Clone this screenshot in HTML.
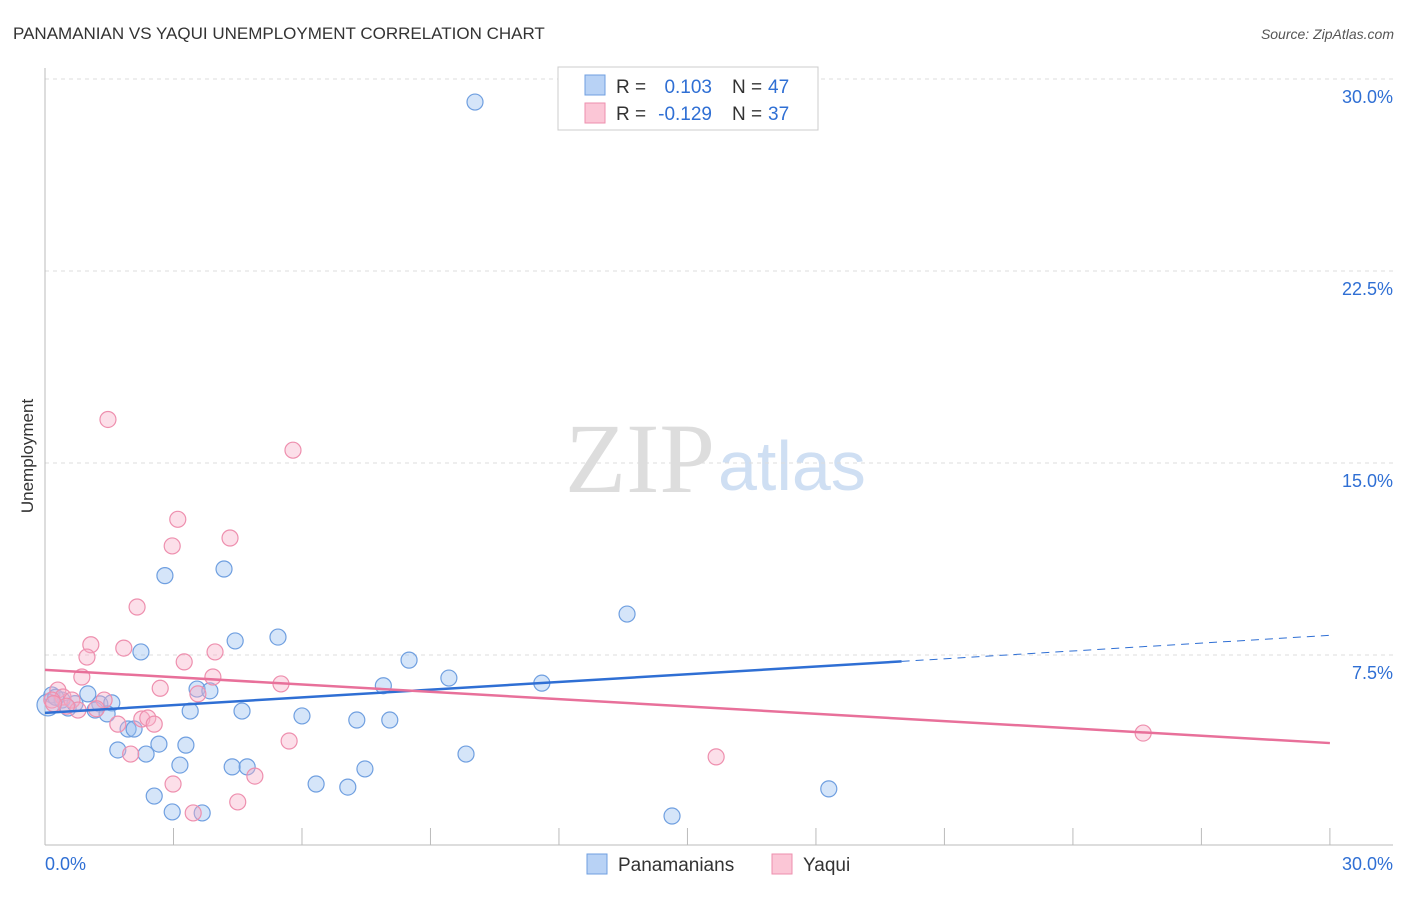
<!DOCTYPE html>
<html><head><meta charset="utf-8">
<style>
body{margin:0;background:#fff;font-family:"Liberation Sans",sans-serif;}
svg text{font-family:"Liberation Sans",sans-serif;}
</style></head>
<body>
<svg width="1406" height="892" xmlns="http://www.w3.org/2000/svg">
<text x="13" y="39" font-size="17" fill="#333">PANAMANIAN VS YAQUI UNEMPLOYMENT CORRELATION CHART</text>
<text x="1394" y="39" font-size="14" fill="#555" text-anchor="end" font-style="italic">Source: ZipAtlas.com</text>
<text x="715" y="492" font-size="100" text-anchor="end" fill="#ddd" style="font-family:'Liberation Serif',serif">ZIP</text>
<text x="718" y="490" font-size="70" fill="#cfdff3">atlas</text>
<text x="33" y="456" font-size="17" fill="#333" text-anchor="middle" transform="rotate(-90 33 456)">Unemployment</text>
<g id="grid"></g>
<g id="axes"></g>
<g id="marks"></g>
<g>
<rect x="558" y="67" width="260" height="63" fill="#fff" stroke="#ccc"/>
<rect x="585" y="75" width="20" height="20" fill="#b8d2f5" stroke="#6f9fe0"/>
<rect x="585" y="103" width="20" height="20" fill="#fbc6d6" stroke="#ee8fae"/>
<text x="616" y="93" font-size="19" fill="#333">R =</text>
<text x="712" y="93" font-size="19" fill="#2f6fd4" text-anchor="end">0.103</text>
<text x="732" y="93" font-size="19" fill="#333">N =</text>
<text x="768" y="93" font-size="19" fill="#2f6fd4">47</text>
<text x="616" y="120" font-size="19" fill="#333">R =</text>
<text x="712" y="120" font-size="19" fill="#2f6fd4" text-anchor="end">-0.129</text>
<text x="732" y="120" font-size="19" fill="#333">N =</text>
<text x="768" y="120" font-size="19" fill="#2f6fd4">37</text>
</g>
<g>
<rect x="587" y="854" width="20" height="20" fill="#b8d2f5" stroke="#6f9fe0"/>
<text x="618" y="871" font-size="19" fill="#333">Panamanians</text>
<rect x="772" y="854" width="20" height="20" fill="#fbc6d6" stroke="#ee8fae"/>
<text x="803" y="871" font-size="19" fill="#333">Yaqui</text>
</g>
</svg>
<script>
const yTicks=[7.5,15,22.5,30];
const yTickLabels=["7.5%","15.0%","22.5%","30.0%"];
const xTicks=[0,3,6,9,12,15,18,21,24,27,30];
const panX=[10.04,2.8,4.18,13.59,4.44,5.44,2.24,8.5,9.43,11.6,7.9,3.55,3.85,0.16,1.0,0.4,0.54,1.28,1.56,1.17,1.45,3.39,4.6,6.0,7.28,8.05,1.94,2.08,2.66,3.29,1.7,2.36,9.83,3.15,4.37,4.72,7.47,6.33,7.07,2.55,18.3,2.97,3.67,14.64,0.07,0.25,0.7];
const panY=[29.1,10.6,10.86,9.1,8.05,8.2,7.62,7.3,6.6,6.4,6.3,6.17,6.1,5.94,5.98,5.74,5.43,5.59,5.63,5.35,5.2,5.31,5.31,5.12,4.96,4.96,4.61,4.61,4.02,3.98,3.79,3.63,3.63,3.2,3.13,3.13,3.05,2.46,2.34,1.99,2.27,1.37,1.33,1.21,5.55,5.85,5.6];
const yaqX=[1.47,5.79,3.1,2.97,4.32,2.15,1.07,1.84,0.98,3.97,3.25,0.86,3.92,5.51,2.69,3.57,0.3,0.42,0.63,1.38,0.77,1.7,2.26,2.4,2.55,5.7,2.0,2.99,4.9,4.5,3.46,15.67,25.64,0.16,0.5,1.2,0.2];
const yaqY=[16.7,15.5,12.8,11.76,12.07,9.375,7.9,7.77,7.42,7.62,7.23,6.64,6.64,6.37,6.2,5.98,6.13,5.86,5.74,5.74,5.35,4.8,5.0,5.04,4.8,4.14,3.63,2.46,2.77,1.76,1.33,3.52,4.45,5.74,5.5,5.4,5.6];
const panTrend=[5.24,7.25,8.27];
const yaqTrend=[6.92,4.06];
const X=v=>45+v*42.83, Y=v=>847-v*25.6;
const NS="http://www.w3.org/2000/svg";
function mk(t,a,p){const e=document.createElementNS(NS,t);for(const k in a)e.setAttribute(k,a[k]);p.appendChild(e);return e;}
const grid=document.getElementById('grid'),axes=document.getElementById('axes'),marks=document.getElementById('marks');
yTicks.forEach((v,i)=>{
 const l=mk('line',{x1:45,x2:1393,y1:Y(v),y2:Y(v),stroke:'#ddd','stroke-dasharray':'4,4'},grid);
 
 
 const t=mk('text',{x:1393,y:Y(v)+24,'font-size':18,fill:'#2f6fd4','text-anchor':'end'},axes);
 t.textContent=yTickLabels[i];
 
 
});
const xa=mk('line',{x1:45,x2:1393,y1:845,y2:845,stroke:'#bbb'},axes);


const ya=mk('line',{x1:45,x2:45,y1:68,y2:845,stroke:'#bbb'},axes);


xTicks.forEach(v=>{
 const l=mk('line',{x1:X(v),x2:X(v),y1:828,y2:845,stroke:'#bbb'},axes);
 
 
});
const x0=mk('text',{x:45,y:870,'font-size':18,fill:'#2f6fd4'},axes);x0.textContent='0.0%';


const x1=mk('text',{x:1393,y:870,'font-size':18,fill:'#2f6fd4','text-anchor':'end'},axes);x1.textContent='30.0%';


panX.forEach((v,i)=>{
 const c=mk('circle',{cx:X(v),cy:Y(panY[i]),r:i==44?11:8,fill:'rgba(150,190,240,0.4)',stroke:'#6f9fe0','stroke-width':1.2},marks);
 
 
});
yaqX.forEach((v,i)=>{
 const c=mk('circle',{cx:X(v),cy:Y(yaqY[i]),r:8,fill:'rgba(248,175,200,0.4)',stroke:'#ee8fae','stroke-width':1.2},marks);
 
 
});
const pt=mk('line',{x1:X(0),y1:Y(panTrend[0]),x2:X(20),y2:Y(panTrend[1]),stroke:'#2f6fd4','stroke-width':2.5},marks);


const pd=mk('line',{x1:X(20),y1:Y(panTrend[1]),x2:X(30),y2:Y(panTrend[2]),stroke:'#2f6fd4','stroke-width':1,'stroke-dasharray':'8,6'},marks);


const yt=mk('line',{x1:X(0),y1:Y(yaqTrend[0]),x2:X(30),y2:Y(yaqTrend[1]),stroke:'#e8709a','stroke-width':2.5},marks);


</script>
</body></html>
